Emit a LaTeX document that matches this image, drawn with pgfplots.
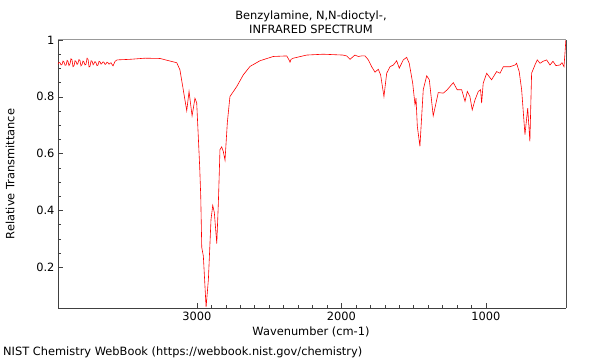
\documentclass[border=0pt]{standalone}
\usepackage{fontspec}
\setmainfont{DejaVu Sans}
\usepackage{pgfplots}
\pgfplotsset{compat=1.18}
\begin{document}
\begin{tikzpicture}[font=\fontsize{11.4bp}{13.7bp}\selectfont]
\path[use as bounding box] (0,0) rectangle (600bp,360bp);
\begin{axis}[
  at={(58bp,52bp)}, anchor=south west,
  scale only axis, width=508bp, height=268bp,
  x dir=reverse,
  xmin=446, xmax=3962, ymin=0.057, ymax=1,
  axis x line*=bottom, axis y line*=left,
  axis line style={-, color=black!75},
  xtick={1000,2000,3000}, minor x tick num=9,
  ytick={0.2,0.4,0.6,0.8,1}, minor y tick num=3,
  tick align=inside,
  major tick length=5bp, minor tick length=3bp,
  tick style={color=black!75, line width=0.6bp},
  /pgf/number format/assume math mode=true,
  /pgf/number format/set thousands separator={},
  xticklabel style={yshift=-1bp},
  ticklabel style={font=\fontsize{11.4bp}{13.7bp}\selectfont},
  clip=true,
  after end axis/.code={
    \draw[color=black!40, line width=1bp] (rel axis cs:0,1) -- (rel axis cs:1,1);
    \draw[color=black!70, line width=1bp] (rel axis cs:1,0) -- (rel axis cs:1,1);
  },
]
\addplot[color=red, line width=0.6bp, mark=none] coordinates {
(3962,0.915) (3955,0.921) (3948,0.920) (3941,0.912) (3934,0.914) (3927,0.926) (3920,0.922) (3913,0.911) (3906,0.912) (3899,0.928) (3893,0.925)
(3886,0.910) (3879,0.916) (3872,0.934) (3865,0.930) (3858,0.906) (3851,0.910) (3844,0.927) (3837,0.924) (3830,0.914) (3824,0.918) (3817,0.931) (3810,0.928)
(3803,0.909) (3796,0.913) (3789,0.926) (3782,0.922) (3775,0.912) (3768,0.915) (3761,0.936) (3754,0.932) (3747,0.905) (3740,0.908) (3733,0.927) (3726,0.925)
(3719,0.913) (3713,0.917) (3706,0.924) (3699,0.920) (3692,0.910) (3685,0.912) (3678,0.925) (3671,0.923) (3664,0.915) (3658,0.918) (3650,0.923) (3643,0.921)
(3636,0.914) (3630,0.916) (3623,0.922) (3616,0.920) (3609,0.915) (3602,0.918) (3595,0.920) (3588,0.914) (3581,0.909) (3567,0.925)
(3553,0.930) (3464,0.932) (3360,0.936) (3256,0.935) (3187,0.926) (3140,0.920)
(3118,0.895) (3095,0.825) (3071,0.751) (3055,0.819) (3034,0.733) (3014,0.795)
(3002,0.779) (2990,0.650) (2981,0.550) (2974,0.450) (2967,0.270) (2956,0.240)
(2937,0.060) (2921,0.158) (2903,0.368) (2891,0.418) (2880,0.393) (2863,0.284)
(2852,0.428) (2845,0.544) (2841,0.614) (2829,0.624) (2818,0.608) (2806,0.577)
(2790,0.709) (2772,0.801) (2725,0.836) (2680,0.877) (2633,0.907) (2564,0.927)
(2472,0.942) (2379,0.944) (2363,0.930) (2356,0.922) (2349,0.932) (2333,0.936)
(2241,0.947) (2126,0.950) (1990,0.947) (1964,0.944) (1941,0.932) (1907,0.947)
(1884,0.942) (1860,0.944) (1837,0.944) (1814,0.930) (1791,0.906) (1768,0.887)
(1745,0.897) (1729,0.877) (1706,0.801) (1687,0.883) (1664,0.906) (1641,0.912)
(1618,0.927) (1600,0.901) (1572,0.930) (1549,0.939) (1531,0.918) (1507,0.848)
(1491,0.772) (1484,0.795) (1475,0.696) (1457,0.626) (1434,0.825) (1410,0.874)
(1392,0.860) (1365,0.733) (1330,0.815) (1295,0.813) (1268,0.825) (1226,0.850)
(1199,0.825) (1168,0.825) (1145,0.784) (1129,0.819) (1111,0.801) (1095,0.754)
(1076,0.789) (1053,0.819) (1037,0.825) (1030,0.778) (1019,0.848) (995,0.883)
(961,0.860) (926,0.889) (903,0.883) (880,0.906) (834,0.906) (799,0.912)
(788,0.918) (770,0.889) (753,0.825) (730,0.667) (711,0.760) (696,0.643)
(684,0.883) (661,0.912) (645,0.930) (626,0.918) (605,0.925) (580,0.930)
(557,0.912) (536,0.925) (516,0.910) (488,0.912) (474,0.920) (460,0.906)
(453,0.954) (447,1.000)
};
\end{axis}
\node[align=center, inner sep=0pt] at (311bp,338bp) {Benzylamine, N,N-dioctyl-,\\INFRARED SPECTRUM};
\node[inner sep=0pt] at (311bp,28bp) {Wavenumber (cm-1)};
\node[rotate=90, inner sep=0pt] at (10bp,186bp) {Relative Transmittance};
\node[anchor=west, inner sep=0pt] at (3bp,8bp) {NIST Chemistry WebBook (https://webbook.nist.gov/chemistry)};
\end{tikzpicture}
\end{document}
